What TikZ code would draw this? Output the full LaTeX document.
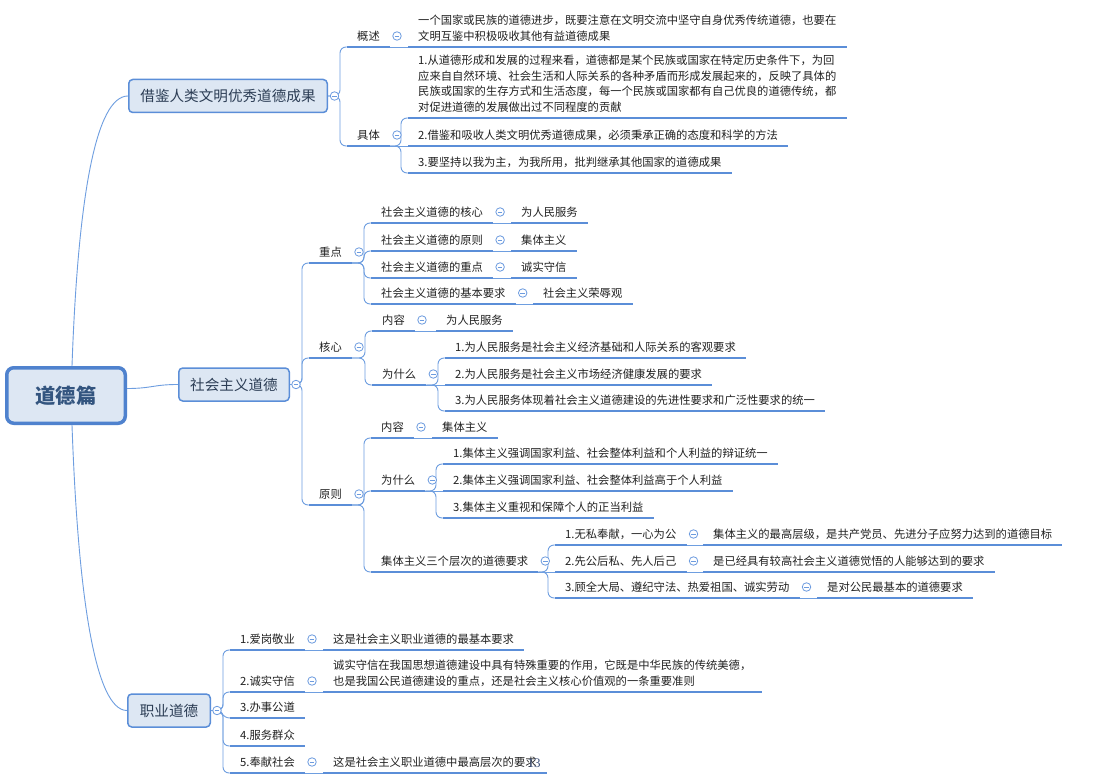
\documentclass[tikz,border=0pt]{standalone}
\usepackage{fontspec}
\setmainfont{Noto Sans CJK SC}
\newfontfamily\numserif{Liberation Serif}
\usetikzlibrary{calc}
\definecolor{boxfill}{HTML}{DDE7F3}
\definecolor{boxline}{HTML}{5B8ED8}
\definecolor{rootline}{HTML}{4F82CE}
\definecolor{ulcol}{HTML}{5B8ED8}
\definecolor{conncol}{HTML}{6E9EE0}
\definecolor{txt}{HTML}{222222}
\definecolor{boxtxt}{HTML}{2C3D55}
\definecolor{roottxt}{HTML}{33557F}
\definecolor{btn}{HTML}{6C9BDF}
\definecolor{pgcol}{HTML}{3B4F7A}
\newcommand\leaffont{\fontsize{11.3}{15.5}\selectfont}
\newcommand\boxfont{\fontsize{14.6}{17}\selectfont}
\newcommand\rootfont{\fontsize{20.3}{24}\selectfont\bfseries}
\newcommand\elbow[2]{\draw[conn] let \p1=(#1), \p2=(#2.south west) in (\p1) -- (\x2-7pt,\y1) -- (\x2-7pt,\y2) -- (\p2);}
\newcommand\straight[2]{\draw[thinconn] (#1) -- (#2.south west);}
\begin{document}
\begin{tikzpicture}[x=1pt,y=-1pt,
  topic/.style={anchor=south west, inner xsep=10pt, inner ysep=5.5pt, font=\leaffont, align=left, text=txt},
  ul/.style={draw=ulcol, line width=2.8pt},
  conn/.style={draw=conncol, line width=0.9pt, rounded corners=6pt},
  thinconn/.style={draw=conncol, line width=0.9pt},
  brbox/.style={draw=boxline, line width=1.5pt, fill=boxfill, rounded corners=4pt, minimum height=33pt, inner sep=2pt, font=\boxfont, text=boxtxt},
  rootbox/.style={draw=rootline, line width=3.5pt, fill=boxfill, rounded corners=7pt, minimum width=118.5pt, minimum height=55.5pt, inner sep=2pt, font=\rootfont, text=roottxt},
  btnc/.style={circle, draw=btn, fill=white, line width=0.8pt, minimum size=8.5pt, inner sep=0pt,
    path picture={\draw[btn, line width=0.8pt] ([xshift=-2.3pt]path picture bounding box.center) -- ([xshift=2.3pt]path picture bounding box.center);}},
]
\useasboundingbox (0,0) rectangle (1102,783);
\fill[white] (0,0) rectangle (1102,783);

% main boxes
\node[rootbox] (root) at (66,395.5) {道德篇};
\node[brbox, minimum width=198.5pt] (A) at (228,96) {借鉴人类文明优秀道德成果};
\node[brbox, minimum width=110.5pt] (B) at (234,384.5) {社会主义道德};
\node[brbox, minimum width=82.5pt] (C) at (169,710.5) {职业道德};

% branch A
\node[topic] (A1) at (347,47) {概述};
\node[topic] (A1a) at (408,47) {一个国家或民族的道德进步，既要注意在文明交流中坚守自身优秀传统道德，也要在\\文明互鉴中积极吸收其他有益道德成果};
\node[topic] (A2) at (347,146) {具体};
\node[topic] (A2a) at (408,118) {1.从道德形成和发展的过程来看，道德都是某个民族或国家在特定历史条件下，为回\\应来自自然环境、社会生活和人际关系的各种矛盾而形成发展起来的，反映了具体的\\民族或国家的生存方式和生活态度，每一个民族或国家都有自己优良的道德传统，都\\对促进道德的发展做出过不同程度的贡献};
\node[topic] (A2b) at (408,146) {2.借鉴和吸收人类文明优秀道德成果，必须秉承正确的态度和科学的方法};
\node[topic] (A2c) at (408,173) {3.要坚持以我为主，为我所用，批判继承其他国家的道德成果};

% branch B
\node[topic] (B1) at (309,263) {重点};
\node[topic] (B1a) at (371,223) {社会主义道德的核心};
\node[topic] (B1a1) at (511,223) {为人民服务};
\node[topic] (B1b) at (371,251) {社会主义道德的原则};
\node[topic] (B1b1) at (511,251) {集体主义};
\node[topic] (B1c) at (371,278) {社会主义道德的重点};
\node[topic] (B1c1) at (511,278) {诚实守信};
\node[topic] (B1d) at (371,304) {社会主义道德的基本要求};
\node[topic] (B1d1) at (533,304) {社会主义荣辱观};

\node[topic] (B2) at (309,358) {核心};
\node[topic] (B2a) at (372,331) {内容};
\node[topic] (B2a1) at (436,331) {为人民服务};
\node[topic] (B2b) at (372,385) {为什么};
\node[topic] (B2b1) at (445,358) {1.为人民服务是社会主义经济基础和人际关系的客观要求};
\node[topic] (B2b2) at (445,385) {2.为人民服务是社会主义市场经济健康发展的要求};
\node[topic] (B2b3) at (445,411) {3.为人民服务体现着社会主义道德建设的先进性要求和广泛性要求的统一};

\node[topic] (B3) at (309,505) {原则};
\node[topic] (B3a) at (371,438) {内容};
\node[topic] (B3a1) at (432,438) {集体主义};
\node[topic] (B3b) at (371,491) {为什么};
\node[topic] (B3b1) at (443,464) {1.集体主义强调国家利益、社会整体利益和个人利益的辩证统一};
\node[topic] (B3b2) at (443,491) {2.集体主义强调国家利益、社会整体利益高于个人利益};
\node[topic] (B3b3) at (443,518) {3.集体主义重视和保障个人的正当利益};
\node[topic] (B3c) at (371,572) {集体主义三个层次的道德要求};
\node[topic] (B3c1) at (555,545) {1.无私奉献，一心为公};
\node[topic] (B3c1a) at (703,545) {集体主义的最高层级，是共产党员、先进分子应努力达到的道德目标};
\node[topic] (B3c2) at (555,572) {2.先公后私、先人后己};
\node[topic] (B3c2a) at (703,572) {是已经具有较高社会主义道德觉悟的人能够达到的要求};
\node[topic] (B3c3) at (555,598) {3.顾全大局、遵纪守法、热爱祖国、诚实劳动};
\node[topic] (B3c3a) at (817,598) {是对公民最基本的道德要求};

% branch C
\node[topic] (C1) at (230,650) {1.爱岗敬业};
\node[topic] (C1a) at (323,650) {这是社会主义职业道德的最基本要求};
\node[topic] (C2) at (230,692) {2.诚实守信};
\node[topic] (C2a) at (323,692) {诚实守信在我国思想道德建设中具有特殊重要的作用，它既是中华民族的传统美德，\\也是我国公民道德建设的重点，还是社会主义核心价值观的一条重要准则};
\node[topic] (C3) at (230,718) {3.办事公道};
\node[topic] (C4) at (230,746) {4.服务群众};
\node[topic] (C5) at (230,773) {5.奉献社会};
\node[topic] (C5a) at (323,773) {这是社会主义职业道德中最高层次的要求};
\node[font=\numserif\fontsize{13}{13}\selectfont, text=pgcol, inner sep=0pt] (pg) at (534,763) {13};

% connectors from root
\draw[thinconn] ($(root.north)+(6,0)$) .. controls +(6,-170) and +(-32,0) .. (A.west);
\draw[thinconn] ($(root.east)+(0,-7)$) .. controls +(25,0) and +(-25,0) .. (B.west);
\draw[thinconn] ($(root.south)+(6,0)$) .. controls +(6,170) and +(-32,0) .. (C.west);

% branch A connectors
\elbow{A.east}{A1}
\elbow{A.east}{A2}
\straight{A1.south east}{A1a}
\elbow{A2.south east}{A2a}
\straight{A2.south east}{A2b}
\elbow{A2.south east}{A2c}

% branch B connectors
\elbow{B.east}{B1}
\elbow{B.east}{B2}
\elbow{B.east}{B3}
\elbow{B1.south east}{B1a}
\elbow{B1.south east}{B1b}
\elbow{B1.south east}{B1c}
\elbow{B1.south east}{B1d}
\straight{B1a.south east}{B1a1}
\straight{B1b.south east}{B1b1}
\straight{B1c.south east}{B1c1}
\straight{B1d.south east}{B1d1}
\elbow{B2.south east}{B2a}
\elbow{B2.south east}{B2b}
\straight{B2a.south east}{B2a1}
\elbow{B2b.south east}{B2b1}
\straight{B2b.south east}{B2b2}
\elbow{B2b.south east}{B2b3}
\elbow{B3.south east}{B3a}
\elbow{B3.south east}{B3b}
\elbow{B3.south east}{B3c}
\straight{B3a.south east}{B3a1}
\elbow{B3b.south east}{B3b1}
\straight{B3b.south east}{B3b2}
\elbow{B3b.south east}{B3b3}
\elbow{B3c.south east}{B3c1}
\straight{B3c.south east}{B3c2}
\elbow{B3c.south east}{B3c3}
\straight{B3c1.south east}{B3c1a}
\straight{B3c2.south east}{B3c2a}
\straight{B3c3.south east}{B3c3a}

% branch C connectors
\elbow{C.east}{C1}
\elbow{C.east}{C2}
\draw[thinconn] (C.east) .. controls +(12,0) and +(-8,0) .. (C3.south west);
\elbow{C.east}{C4}
\elbow{C.east}{C5}
\straight{C1.south east}{C1a}
\straight{C2.south east}{C2a}
\straight{C5.south east}{C5a}

% underlines
\foreach \n in {A1,A1a,A2,A2a,A2b,A2c,B1,B1a,B1a1,B1b,B1b1,B1c,B1c1,B1d,B1d1,B2,B2a,B2a1,B2b,B2b1,B2b2,B2b3,B3,B3a,B3a1,B3b,B3b1,B3b2,B3b3,B3c,B3c1,B3c1a,B3c2,B3c2a,B3c3,B3c3a,C1,C1a,C2,C2a,C3,C4,C5,C5a}
  \draw[ul] (\n.south west) -- (\n.south east);

% collapse buttons
\node[btnc] (bA) at ($(A.east)+(6.5,0)$) {};
\node[btnc] (bB) at ($(B.east)+(6,0)$) {};
\node[btnc] (bC) at ($(C.east)+(6,0)$) {};
\foreach \n in {A1,A2,B1,B1a,B1b,B1c,B1d,B2,B2a,B2b,B3,B3a,B3b,B3c,B3c1,B3c2,B3c3,C1,C2,C5}
  \node[btnc] (b\n) at ($(\n.south east)+(7,-11)$) {};
\end{tikzpicture}
\end{document}
